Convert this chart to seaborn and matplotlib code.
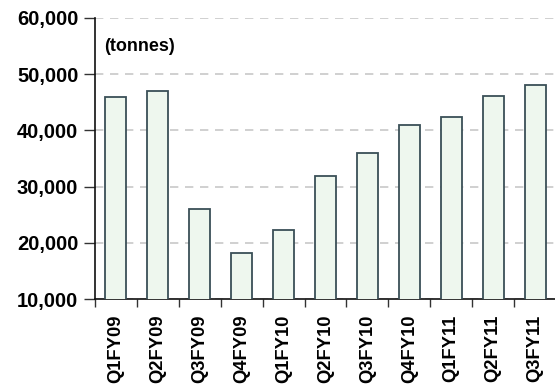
import matplotlib
matplotlib.use("Agg")
import matplotlib.pyplot as plt
import seaborn as sns
import pandas as pd
import numpy as np
from matplotlib.ticker import FuncFormatter, FixedLocator

quarters = ["Q1FY09", "Q2FY09", "Q3FY09", "Q4FY09", "Q1FY10", "Q2FY10",
            "Q3FY10", "Q4FY10", "Q1FY11", "Q2FY11", "Q3FY11"]
volumes = [45900, 47000, 26000, 18200, 22300, 31900,
           36000, 41000, 42400, 46200, 48000]
y_ticks = [10000, 20000, 30000, 40000, 50000, 60000]

df = pd.DataFrame({"quarter": quarters, "volume": volumes})

sns.set_style("white")
plt.rcParams["font.family"] = ["Liberation Sans", "DejaVu Sans"]
plt.rcParams["text.color"] = "#000000"
plt.rcParams["xtick.color"] = "#000000"
plt.rcParams["ytick.color"] = "#000000"

fig = plt.figure(figsize=(5.55, 3.91), dpi=100)
ax = fig.add_axes([95 / 555, 1 - 299 / 391, 461 / 555, 281 / 391])

sns.barplot(data=df, x="quarter", y="volume", ax=ax, width=0.5,
            color="#eef7ee", edgecolor="#3a4f57", linewidth=1.3,
            saturation=1, zorder=3)

ax.set_ylim(10000, 60000)
ax.set_xlim(-0.5, len(quarters) - 0.5)
ax.set_yticks(y_ticks)
ax.yaxis.set_major_formatter(FuncFormatter(lambda v, p: f"{int(v):,}"))
ax.tick_params(axis="y", direction="out", length=8, width=1, color="#333333",
               labelcolor="#000000", labelsize=14.5, pad=4, left=True)
for lab in ax.get_yticklabels():
    lab.set_fontweight("bold")

# Category labels at bar centres, tick marks at category boundaries
ax.tick_params(axis="x", which="major", length=0, labelsize=13.2, pad=11,
               labelrotation=90, labelcolor="#000000")
for lab in ax.get_xticklabels():
    lab.set_fontweight("bold")
ax.xaxis.set_minor_locator(FixedLocator(np.arange(-0.5, len(quarters) - 0.5, 1)))
ax.tick_params(axis="x", which="minor", direction="out", length=6, width=1,
               color="#333333", bottom=True)

ax.set_xlabel("")
ax.set_ylabel("")

ax.yaxis.grid(True, linestyle=(0, (5, 4)), color="#c8c8c8", linewidth=1.2,
              zorder=0)
ax.set_axisbelow(True)

for side in ["top", "right"]:
    ax.spines[side].set_visible(False)
for side in ["left", "bottom"]:
    ax.spines[side].set_color("#111111")
    ax.spines[side].set_linewidth(1.2)

ax.text(0.02, 0.9, "(tonnes)", transform=ax.transAxes, fontsize=13,
        fontweight="bold", ha="left", va="center", color="#000000")

fig.savefig("out.png", dpi=100)
